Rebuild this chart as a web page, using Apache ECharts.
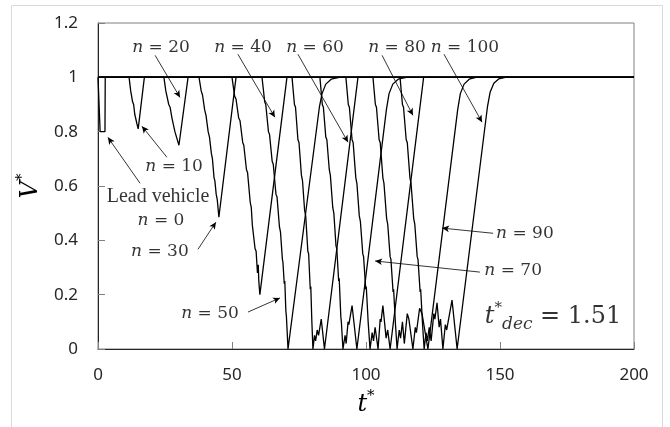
<!DOCTYPE html>
<html>
<head>
<meta charset="utf-8">
<script src="https://cdn.jsdelivr.net/npm/echarts@6/dist/echarts.min.js"></script>
<style>
  html, body { margin: 0; padding: 0; background: #fff; }
  #chart { width: 670px; height: 427px; }
</style>
</head>
<body>
<div id="chart"></div>
<script>
// axis ticks
const xTicks = [0, 50, 100, 150, 200];
const yTicks = [0, 0.2, 0.4, 0.6, 0.8, 1, 1.2];

// V* against t* for every 10th vehicle, [t*, V*]
const n0 = [[0, 1], [0.7, 1], [0.8, 0.8], [2.6, 0.8], [2.7, 1], [200, 1]];
const n10 = [[0, 1], [11.6, 1], [12.2, 0.95], [12.5, 0.945], [12.9, 0.91], [13.3, 0.9], [13.7, 0.865], [14.0, 0.86], [14.5, 0.83], [15.0, 0.81], [17.3, 1], [200, 1]];
const n20 = [[0, 1], [24.6, 1], [25.3, 0.95], [25.7, 0.945], [26.4, 0.9], [26.9, 0.89], [27.6, 0.85], [28.0, 0.845], [28.7, 0.8], [29.1, 0.795], [29.6, 0.77], [30.2, 0.75], [33.6, 1], [200, 1]];
const n30 = [[0, 1], [37.7, 1], [38.5, 0.95], [39.0, 0.935], [39.8, 0.88], [40.3, 0.86], [41.1, 0.8], [41.6, 0.78], [42.3, 0.72], [42.7, 0.7], [43.3, 0.63], [43.6, 0.62], [44.1, 0.57], [44.5, 0.55], [45.1, 0.485], [51.5, 1], [200, 1]];
const n40 = [[0, 1], [50, 1], [51, 0.93], [51.5, 0.92], [52.5, 0.85], [53, 0.84], [54, 0.76], [54.4, 0.75], [55.4, 0.66], [55.8, 0.65], [56.8, 0.54], [57.2, 0.52], [57.6, 0.455], [58.0, 0.45], [58.6, 0.37], [59.0, 0.36], [59.5, 0.28], [59.8, 0.31], [60.0, 0.25], [60.4, 0.2], [70.5, 1], [200, 1]];
const n50 = [[0, 1], [61.2, 1], [62.2, 0.91], [62.6, 0.9], [63.6, 0.8], [64.0, 0.79], [65.0, 0.69], [65.4, 0.68], [66.4, 0.57], [66.8, 0.56], [67.7, 0.45], [68.1, 0.43], [68.8, 0.33], [69.0, 0.32], [69.5, 0.24], [69.7, 0.25], [70.1, 0.14], [70.3, 0.12], [70.9, 0], [82.6, 0.89], [83.6, 0.94], [85, 0.975], [87, 0.993], [90, 1], [200, 1]];
const n60 = [[0, 1], [72.4, 1], [73.3, 0.9], [73.7, 0.89], [74.6, 0.77], [75.0, 0.76], [75.9, 0.64], [76.3, 0.62], [77.1, 0.51], [77.5, 0.49], [78.3, 0.36], [78.6, 0.35], [79.2, 0.22], [79.4, 0.23], [79.8, 0.1], [80.2, 0], [80.8, 0.05], [81.2, 0.03], [81.8, 0.07], [82.3, 0.05], [83.3, 0.11], [84.5, 0], [97, 1], [200, 1]];
const n70 = [[0, 1], [82.8, 1], [83.7, 0.9], [84.1, 0.89], [85.0, 0.78], [85.4, 0.77], [86.3, 0.66], [86.7, 0.64], [87.6, 0.52], [88.0, 0.5], [88.8, 0.38], [89.1, 0.37], [89.8, 0.25], [90.0, 0.26], [90.6, 0.12], [90.8, 0.1], [91.4, 0], [92.2, 0.05], [92.6, 0.02], [93.3, 0.1], [93.6, 0.09], [94.8, 0.16], [96.6, 0], [107.6, 0.88], [108.6, 0.94], [110, 0.975], [112, 0.993], [115, 1], [200, 1]];
const n80 = [[0, 1], [92.5, 1], [93.4, 0.9], [93.8, 0.89], [94.8, 0.77], [95.2, 0.76], [96.2, 0.63], [96.6, 0.61], [97.5, 0.49], [97.9, 0.47], [98.8, 0.35], [99.1, 0.34], [99.9, 0.22], [100.1, 0.23], [100.8, 0.1], [101.5, 0], [102.3, 0.06], [102.8, 0.03], [103.4, 0.08], [104.5, 0], [105.3, 0.11], [105.6, 0.1], [106.3, 0.16], [107.5, 0.04], [108.1, 0.07], [109, 0], [121.5, 1], [200, 1]];
const n90 = [[0, 1], [102.6, 1], [103.5, 0.9], [103.9, 0.89], [104.9, 0.77], [105.3, 0.76], [106.3, 0.63], [106.7, 0.61], [107.7, 0.48], [108.1, 0.46], [109.0, 0.34], [109.3, 0.33], [110.1, 0.21], [110.3, 0.22], [111.0, 0.09], [111.6, 0], [112.4, 0.07], [112.9, 0.04], [113.6, 0.1], [114.3, 0.02], [115.4, 0.13], [116.0, 0.11], [117.5, 0], [118.4, 0.08], [118.8, 0.06], [120.0, 0.15], [120.9, 0.13], [123.1, 0], [134.2, 0.88], [135.2, 0.94], [136.6, 0.975], [138.5, 0.993], [141, 1], [200, 1]];
const n100 = [[0, 1], [112.7, 1], [113.6, 0.9], [114.0, 0.89], [115.0, 0.77], [115.4, 0.76], [116.4, 0.63], [116.8, 0.61], [117.8, 0.48], [118.2, 0.46], [119.1, 0.34], [119.4, 0.33], [120.2, 0.21], [120.4, 0.22], [121.1, 0.09], [121.7, 0], [122.4, 0.06], [122.9, 0.03], [123.6, 0.08], [124.3, 0.03], [125.3, 0.13], [125.7, 0.11], [126.5, 0.17], [127.3, 0.08], [127.8, 0.11], [128.7, 0], [129.6, 0.09], [130.1, 0.07], [132.1, 0.18], [134, 0], [145.3, 0.89], [146.3, 0.945], [147.7, 0.978], [149.5, 0.994], [152, 1], [200, 1]];

const vehicles = [n0, n10, n20, n30, n40, n50, n60, n70, n80, n90, n100];

// annotation texts at [t*, V*]
const notes = [
  [23.5, 1.11, "n = 20"], [54.1, 1.11, "n = 40"], [81.0, 1.11, "n = 60"],
  [111.6, 1.11, "n = 80"], [136.9, 1.11, "n = 100"], [28.4, 0.673, "n = 10"],
  [23.5, 0.471, "n = 0"], [23.1, 0.357, "n = 30"], [41.8, 0.132, "n = 50"],
  [159.3, 0.426, "n = 90"], [154.9, 0.29, "n = 70"]
];
// arrows: from [t*, V*] to [t*, V*]
const arrows = [
  [[21.3, 1.081], [30.6, 0.926]], [[52.2, 1.085], [66.0, 0.853]],
  [[74.6, 1.085], [93.3, 0.761]], [[106.0, 1.081], [117.5, 0.86]],
  [[129.1, 1.085], [143.3, 0.835]], [[25.7, 0.706], [16.4, 0.82]],
  [[15.7, 0.61], [3.7, 0.779]], [[37.3, 0.367], [44.0, 0.467]],
  [[55.97, 0.136], [67.9, 0.188]], [[147.4, 0.426], [128.4, 0.445]],
  [[142.5, 0.283], [103.4, 0.324]]
];

const serif = "DejaVu Serif";
const rich = {
  i: { fontFamily: serif, fontStyle: "italic", fontSize: 17, color: "#000" },
  r: { fontFamily: serif, fontSize: 17, color: "#000" },
  lv: { fontFamily: "Liberation Serif", fontSize: 20, color: "#000" },
  t: { fontFamily: serif, fontStyle: "italic", fontSize: 24, color: "#000", lineHeight: 32 },
  sup: { fontFamily: serif, fontSize: 15, color: "#000", verticalAlign: "top", lineHeight: 32 },
  sub: { fontFamily: serif, fontStyle: "italic", fontSize: 17, color: "#000", verticalAlign: "bottom", lineHeight: 26 },
  big: { fontFamily: serif, fontSize: 24, color: "#000", lineHeight: 32 }
};

const series = vehicles.map((d) => ({
  type: "line",
  data: d,
  symbol: "none",
  silent: true,
  lineStyle: { color: "#000", width: 1.3 }
}));

series.push({
  type: "scatter",
  silent: true,
  symbolSize: 1,
  itemStyle: { color: "rgba(0,0,0,0)" },
  data: notes.map((n) => [n[0], n[1], n[2]])
    .concat([[22.4, 0.559, "lead"], [169.8, 0.118, "tdec"]]),
  label: {
    show: true,
    position: "inside",
    rich: rich,
    formatter: (p) => {
      const s = p.data[2];
      if (s === "lead") return "{lv|Lead vehicle}";
      if (s === "tdec") return "{t|t}{sup|*}{sub|dec}{big| = 1.51}";
      return "{i|n}{r| " + s.slice(2) + "}";
    }
  },
  markLine: {
    silent: true,
    symbol: ["none", "arrow"],
    symbolSize: [5, 7],
    label: { show: false },
    lineStyle: { color: "#000", width: 0.8, type: "solid" },
    data: arrows.map((a) => [{ coord: a[0] }, { coord: a[1] }])
  }
});

const chart = echarts.init(document.getElementById("chart"));
chart.setOption({
  animation: false,
  graphic: [{
    type: "rect",
    shape: { x: 11.5, y: 5.5, width: 651, height: 430 },
    style: { fill: "none", stroke: "#d9d9d9", lineWidth: 1 },
    silent: true
  }],
  grid: {
    left: 98, right: 36, top: 23, bottom: 78,
    show: true, borderColor: "#808080", borderWidth: 1
  },
  xAxis: {
    type: "value",
    min: xTicks[0], max: xTicks[xTicks.length - 1], interval: 50,
    name: "{t|t}{sup|*}",
    nameLocation: "middle",
    nameGap: 34,
    nameTextStyle: { rich: rich },
    axisLine: { lineStyle: { color: "#262626", width: 1 } },
    axisTick: { inside: true, length: 7, lineStyle: { color: "#808080" } },
    axisLabel: { margin: 18, fontFamily: "Noto Sans", fontSize: 17, color: "#262626" },
    splitLine: { show: false }
  },
  yAxis: {
    type: "value",
    min: yTicks[0], max: yTicks[yTicks.length - 1], interval: 0.2,
    name: "{t|V}{sup|*}",
    nameLocation: "middle",
    nameRotate: 90,
    nameGap: 48,
    nameTextStyle: { rich: rich },
    axisLine: { lineStyle: { color: "#262626", width: 1 } },
    axisTick: { inside: true, length: 7, lineStyle: { color: "#808080" } },
    axisLabel: {
      margin: 20, fontFamily: "Noto Sans", fontSize: 17, color: "#262626",
      formatter: (v) => String(+v.toFixed(1))
    },
    splitLine: { show: false }
  },
  series: series
});
</script>
</body>
</html>
